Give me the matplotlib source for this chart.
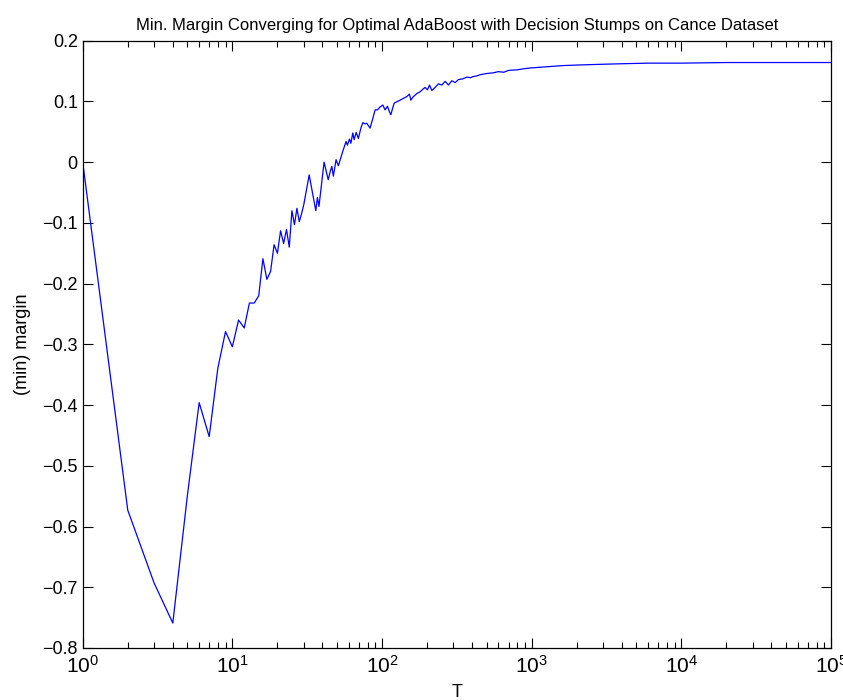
import matplotlib
matplotlib.use('Agg')
import matplotlib.pyplot as plt
from matplotlib.ticker import LogLocator, FixedLocator

plt.rcParams['font.family'] = ['Liberation Sans', 'DejaVu Sans']
plt.rcParams['mathtext.fontset'] = 'custom'
plt.rcParams['mathtext.rm'] = 'Liberation Sans'
plt.rcParams['mathtext.it'] = 'Liberation Sans'

# iterations T and min. margin
T = [1, 2, 3, 4, 5, 6, 7, 8, 9, 10, 11, 12, 13, 14, 15, 16, 17, 18, 19, 20,
     21, 22, 23, 24, 25, 26, 27, 28, 29, 30, 32.6, 36.1, 37, 37.9, 41, 43.7,
     45.0, 46.2, 47.3, 49.3, 51.1, 53.3, 55.2, 57.5, 58.7, 60.6, 61.9, 63.8,
     65.1, 67.2, 69.5, 72.2, 74.4, 77.1, 79.1, 81.1, 83.2, 86.8, 89.9, 93.2,
     97.1, 101.2, 104.9, 108.7, 112.0, 114.5, 118.1, 120.5, 126.8, 132.1,
     139.0, 146.5, 152.4, 155.9, 160.7, 170.9, 179.8, 187.4, 194.1, 201.2,
     207.5, 215.3, 226.5, 238.3, 251.0, 264.2, 278.0, 292.8, 308.1, 324.2,
     345, 368.9, 390, 408, 430, 452.9, 502, 550, 600, 650, 700, 800, 900,
     975, 1255, 1620, 2087, 2830, 4000, 6000, 10000, 20000, 50000, 100000]
margin = [0.0, -0.573, -0.693, -0.759, -0.550, -0.396, -0.452, -0.339, -0.279,
          -0.304, -0.260, -0.273, -0.232, -0.232, -0.220, -0.159, -0.193, -0.180,
          -0.136, -0.150, -0.113, -0.134, -0.111, -0.140, -0.080, -0.103, -0.076,
          -0.098, -0.085, -0.070, -0.021, -0.080, -0.058, -0.073, 0.000, -0.029,
          -0.016, -0.007, -0.023, 0.004, -0.006, 0.009, 0.021, 0.034, 0.028,
          0.038, 0.031, 0.048, 0.037, 0.049, 0.039, 0.056, 0.065, 0.063, 0.064,
          0.060, 0.056, 0.072, 0.086, 0.086, 0.091, 0.094, 0.086, 0.092, 0.083,
          0.078, 0.090, 0.097, 0.100, 0.102, 0.105, 0.108, 0.112, 0.102, 0.107,
          0.113, 0.116, 0.120, 0.123, 0.119, 0.127, 0.118, 0.123, 0.129, 0.127,
          0.133, 0.127, 0.134, 0.131, 0.136, 0.137, 0.140, 0.139, 0.141, 0.142,
          0.144, 0.146, 0.147, 0.149, 0.148, 0.151, 0.152, 0.154, 0.155, 0.157,
          0.159, 0.160, 0.161, 0.162, 0.163, 0.163, 0.164, 0.164, 0.164]

fig = plt.figure(figsize=(8.43, 7.0), dpi=100)
ax = fig.add_axes([0.0981, 0.0743, 0.8877, 0.8676])
ax.plot(T, margin, color='#0000ff', linewidth=0.9)

ax.set_xscale('log')
ax.set_xlim(1, 1e5)
ax.set_ylim(-0.8, 0.2)
ax.yaxis.set_major_locator(FixedLocator([-0.8, -0.7, -0.6, -0.5, -0.4, -0.3,
                                         -0.2, -0.1, 0, 0.1, 0.2]))
ax.set_yticklabels(['\u22120.8', '\u22120.7', '\u22120.6', '\u22120.5', '\u22120.4',
                    '\u22120.3', '\u22120.2', '\u22120.1', '0', '0.1', '0.2'])
ax.xaxis.set_major_locator(LogLocator(base=10, numticks=10))
ax.xaxis.set_minor_locator(LogLocator(base=10, subs=range(2, 10), numticks=20))

ax.tick_params(which='both', direction='in', top=True, right=True,
               labelsize=13, width=0.8)
ax.tick_params(axis='x', which='major', labelsize=15, pad=5)
ax.tick_params(which='major', length=7)
ax.tick_params(which='minor', length=4)
for s in ax.spines.values():
    s.set_linewidth(0.9)

ax.set_title('Min. Margin Converging for Optimal AdaBoost with Decision Stumps on Cance Dataset',
             fontsize=12, pad=8)
ax.set_xlabel('T', fontsize=13, labelpad=5)
ax.set_ylabel('(min) margin', fontsize=13, labelpad=8)

fig.savefig('out.png', dpi=100)
